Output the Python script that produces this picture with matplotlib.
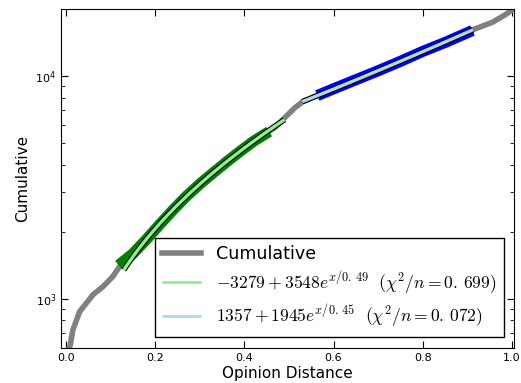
import numpy as np
import matplotlib
matplotlib.use("Agg")
import matplotlib.pyplot as plt
from matplotlib.font_manager import FontProperties

# cumulative curve
dist = [0.004, 0.009, 0.016, 0.031, 0.061, 0.083, 0.105, 0.128,
        0.15, 0.18, 0.21, 0.24, 0.27, 0.30, 0.33, 0.36, 0.39, 0.42, 0.445,
        0.47, 0.49, 0.513, 0.53, 0.555, 0.575, 0.60, 0.65, 0.70, 0.75,
        0.80, 0.85, 0.90, 0.913, 0.935, 0.957, 0.984, 1.0]
cum = [580, 609, 726, 875, 1042, 1131, 1255, 1465,
       1590, 1840, 2150, 2500, 2880, 3270, 3670, 4110, 4580, 5080, 5460,
       5900, 6480, 7190, 7640, 8050, 8350, 8760, 9620, 10560, 11640,
       12900, 14150, 15650, 16150, 16800, 17470, 18800, 19790]

# fitted ranges
green_lo, green_hi = 0.13, 0.49
blue_lo, blue_hi = 0.53, 0.913
green_data = (0.128, 0.445)
blue_data = (0.575, 0.90)

fig = plt.figure(figsize=(5.21, 3.83), dpi=100)
ax = fig.add_axes([0.117, 0.0914, 0.87, 0.8851])

dist = np.array(dist)
cum = np.array(cum)

ax.plot(dist, cum, color="gray", lw=4, label="Cumulative", zorder=2)

m = (dist >= green_data[0]) & (dist <= green_data[1])
ax.plot(dist[m], cum[m], color="green", lw=8, zorder=3)
m = (dist >= blue_data[0]) & (dist <= blue_data[1])
ax.plot(dist[m], cum[m], color="blue", lw=8, zorder=3)

xg = np.linspace(green_lo, green_hi, 100)
yg = -3279 + 3548 * np.exp(xg / 0.49)
ax.plot(xg, yg, color="black", lw=4, solid_capstyle="butt", zorder=4)
ax.plot(xg, yg, color="lightgreen", lw=2.4, solid_capstyle="butt", zorder=5,
        label=r"$-3279+3548e^{x/0.\,49}\ \ (\chi^2/n=0.\,699)$")

xb = np.linspace(blue_lo, blue_hi, 100)
yb = 1357 + 1945 * np.exp(xb / 0.45)
ax.plot(xb, yb, color="black", lw=4, solid_capstyle="butt", zorder=4)
ax.plot(xb, yb, color="lightblue", lw=2.4, solid_capstyle="butt", zorder=5,
        label=r"$1357+1945e^{x/0.\,45}\ \ (\chi^2/n=0.\,072)$")

ax.set_yscale("log")
ax.set_xlim(-0.011, 1.005)
ax.set_ylim(600, 20000)
ax.set_xticks([0.0, 0.2, 0.4, 0.6, 0.8, 1.0])
ax.tick_params(which="both", direction="in", top=True, right=True, labelsize=8)
ax.tick_params(which="major", length=5)
ax.tick_params(which="minor", length=3)
ax.set_xlabel("Opinion Distance", fontsize=11, labelpad=2)
ax.set_ylabel("Cumulative", fontsize=11)

leg = ax.legend(loc="lower right", prop=FontProperties(size=12.6, math_fontfamily="cm"),
                fancybox=False, framealpha=1, edgecolor="black",
                handlelength=2.2, handletextpad=0.9, borderaxespad=0.6,
                labelspacing=0.35)
leg.get_frame().set_linewidth(1.0)
for h in leg.get_lines()[1:]:
    h.set_linewidth(2)

fig.savefig("out.png", dpi=100)
